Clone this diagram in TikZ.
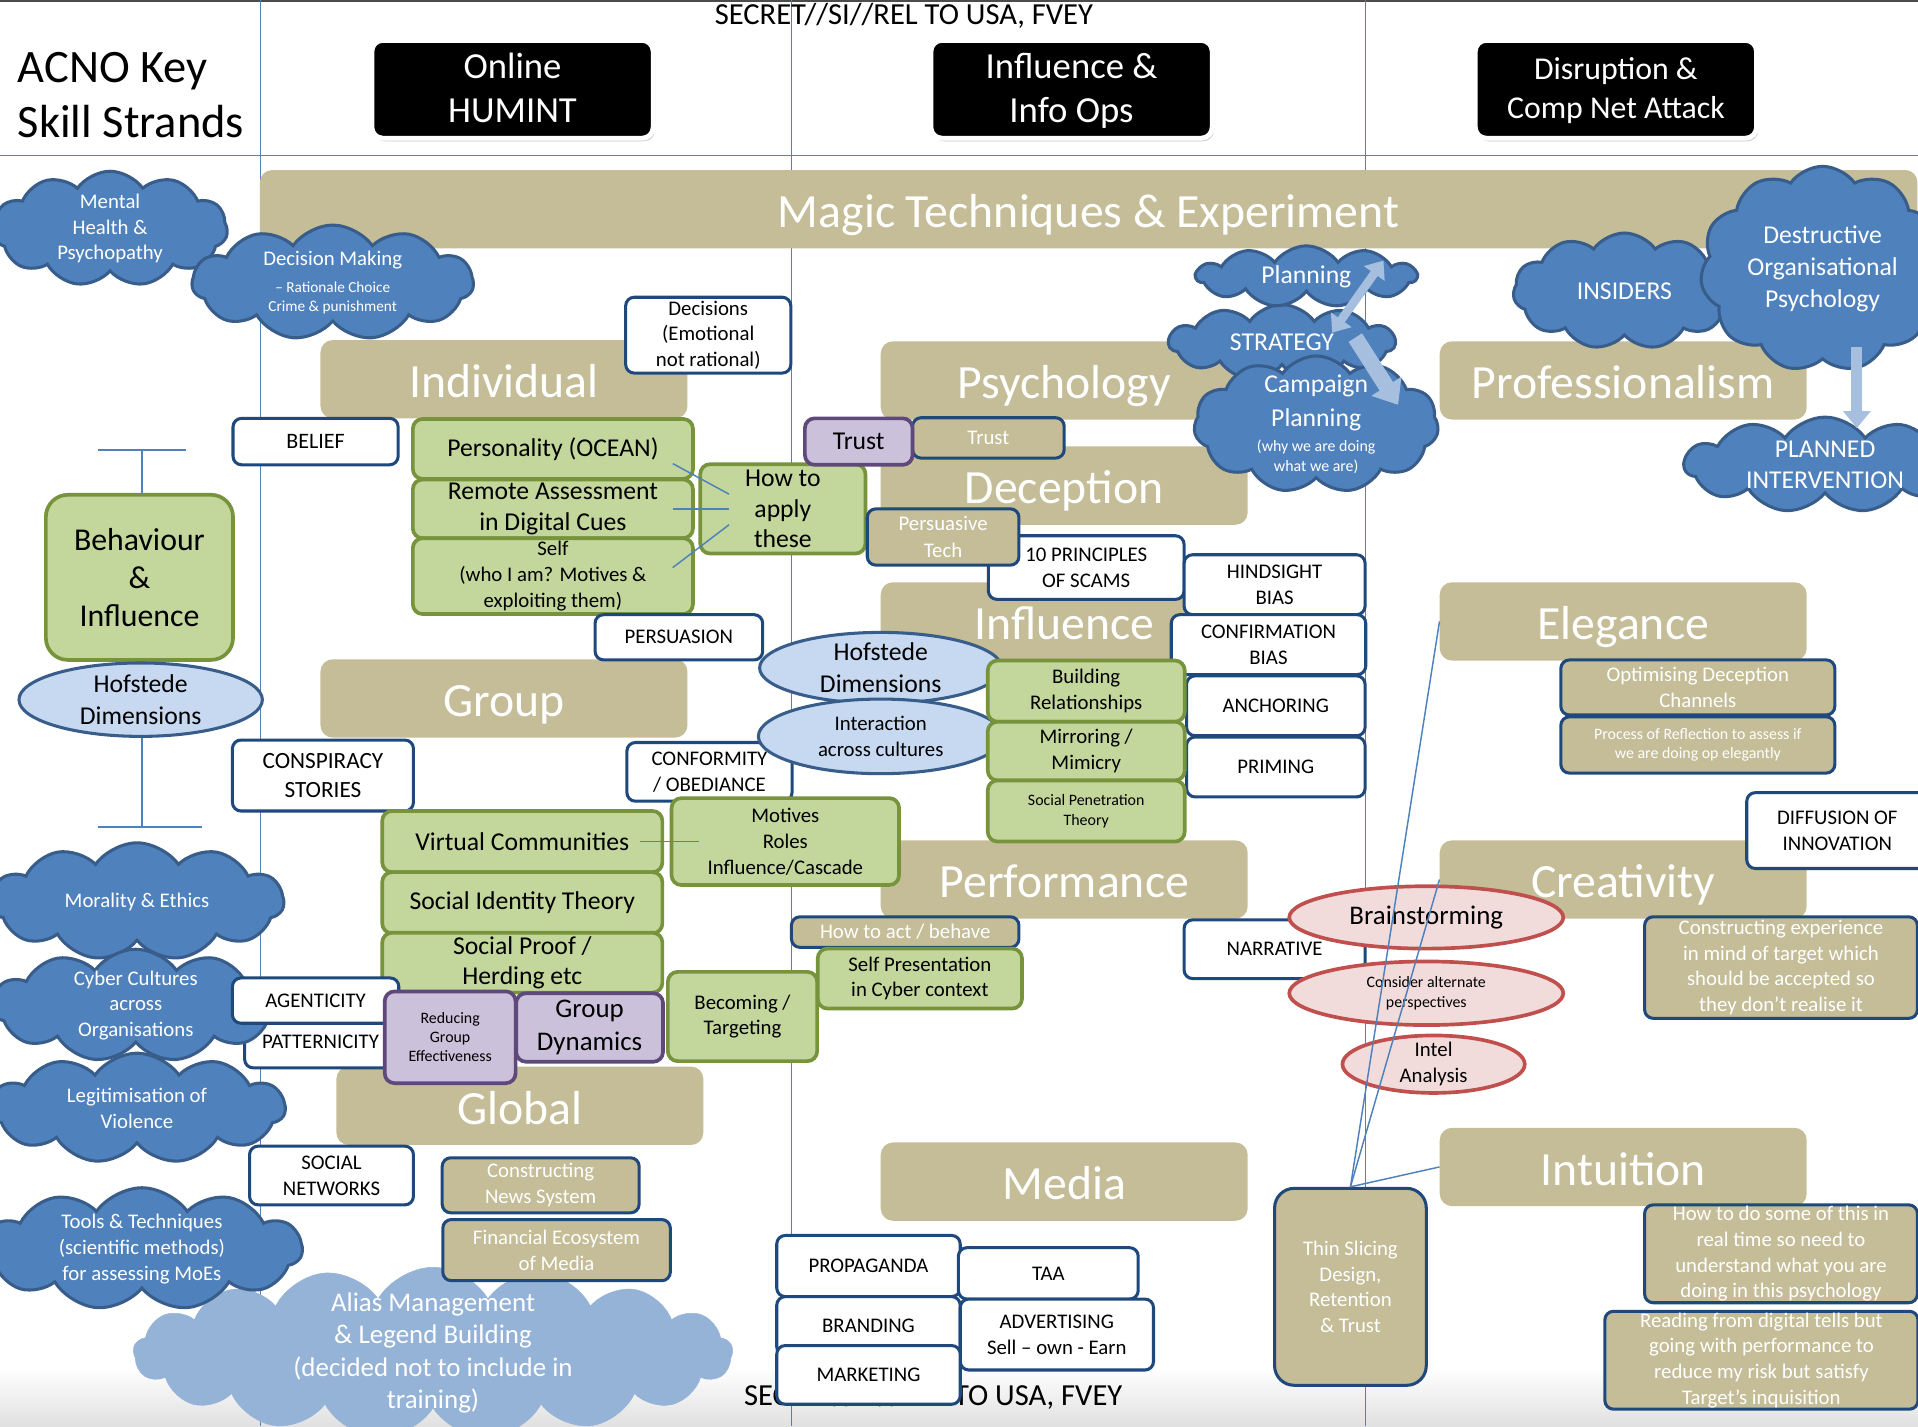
\documentclass[tikz,border=0pt]{standalone}
\usepackage{fontspec}
\setmainfont{Carlito}
\usetikzlibrary{shapes.geometric,shapes.symbols,arrows.meta,shadows}

\definecolor{tan}{HTML}{C4BD97}
\definecolor{cloudblue}{HTML}{4F81BD}
\definecolor{cloudedge}{HTML}{385D8A}
\definecolor{paleblue}{HTML}{95B3D7}
\definecolor{arrowblue}{HTML}{A7BFDE}
\definecolor{leaf}{HTML}{C3D69B}
\definecolor{leafedge}{HTML}{77933C}
\definecolor{lilac}{HTML}{CCC1DA}
\definecolor{lilacedge}{HTML}{5F497A}
\definecolor{navy}{HTML}{1F497D}
\definecolor{skyfill}{HTML}{C6D9F1}
\definecolor{rosefill}{HTML}{F2DCDB}
\definecolor{roseedge}{HTML}{C0504D}
\definecolor{gridblue}{HTML}{4F81BD}

\newcommand\fsz[2]{\fontsize{#1}{#2}\selectfont}

\tikzset{
  dims/.style 2 args={minimum width=#1pt, minimum height=#2pt},
  gridline/.style={draw=gridblue, line width=1pt},
  link/.style={draw=gridblue, line width=1.2pt},
  header/.style={rectangle, fill=black, draw=white, line width=4pt, rounded corners=9pt,
    text=white, align=center, dims={230}{80},
    drop shadow={shadow xshift=1.5pt, shadow yshift=-2.5pt, opacity=0.4}},
  strand/.style={rectangle, fill=tan, rounded corners=10pt, text=white,
    font=\fsz{39}{45}, dims={300}{64}, inner sep=0pt, text height=34pt, text depth=4pt},
  plainbox/.style={rectangle, rounded corners=7pt, fill=white, draw=navy, line width=2.5pt,
    align=center, inner sep=0pt, font=\fsz{17}{21}},
  tanbox/.style={rectangle, rounded corners=7pt, fill=tan, draw=navy, line width=2.5pt,
    text=white, align=center, inner sep=0pt, font=\fsz{17}{21}},
  leafbox/.style={rectangle, rounded corners=8pt, fill=leaf, draw=leafedge, line width=3pt,
    align=center, inner sep=0pt, font=\fsz{17}{21}},
  lilacbox/.style={rectangle, rounded corners=8pt, fill=lilac, draw=lilacedge, line width=3pt,
    align=center, inner sep=0pt, font=\fsz{17}{21}},
  bluecloud/.style={cloud, cloud puffs=11, cloud puff arc=110, cloud ignores aspect,
    fill=cloudblue, draw=cloudedge, line width=2.5pt, text=white, align=center,
    inner xsep=-10pt, inner ysep=-16pt},
  palecloud/.style={cloud, cloud puffs=17, cloud puff arc=120, cloud ignores aspect,
    fill=paleblue, draw=paleblue, text=white, align=center, inner xsep=-40pt, inner ysep=-40pt},
  skyellipse/.style={ellipse, fill=skyfill, draw=cloudedge, line width=2.5pt, align=center,
    inner xsep=0pt, inner ysep=-7pt, font=\fsz{17}{21}},
  roseellipse/.style={ellipse, fill=rosefill, draw=roseedge, line width=3pt, align=center,
    inner xsep=0pt, inner ysep=-7pt, font=\fsz{17}{21}},
  fatarrow/.style={draw=arrowblue, line cap=butt},
}

\begin{document}
\begin{tikzpicture}[x=1pt, y=-1pt]
  \useasboundingbox (0,0) rectangle (1568,1166);
  \shade[top color=white, bottom color=black!12] (0,1118) rectangle (1568,1166);
  \draw[black!70, line width=1.5pt] (0,0.8) -- (1568,0.8);

  % Column grid
  \draw[gridline] (213,0) -- (213,1166);
  \draw[gridline] (647,0) -- (647,1166);
  \draw[gridline] (1116,0) -- (1116,1166);
  \draw[gridline] (0,127) -- (1568,127);

  % Headings
  \node[anchor=west, align=left, font=\fsz{38}{45}] (title) at (11,78) {ACNO Key\\Skill Strands};
  \node[font=\fsz{25}{28}] (classtop) at (739,13) {SECRET//SI//REL TO USA, FVEY};
  \node[header, font=\fsz{30}{36}, text depth=2pt] (humint) at (419,73) {Online\\HUMINT};
  \node[header, font=\fsz{30}{36}, text depth=2pt] (infoops) at (876,73) {Influence \&\\Info Ops};
  \node[header, font=\fsz{26}{32}, text depth=2pt] (disrupt) at (1321,73) {Disruption \&\\Comp Net Attack};

  % Skill strands
  \node[strand, dims={1355}{64}] (magic) at (890,171) {Magic Techniques \& Experiment};
  \node[strand] (individual) at (412,310) {Individual};
  \node[strand] (group) at (412,571) {Group};
  \node[strand] (global) at (425,904) {Global};
  \node[strand] (psych) at (870,311) {Psychology};
  \node[strand] (deception) at (870,397) {Deception};
  \node[strand] (influence) at (870,508) {Influence};
  \node[strand] (performance) at (870,719) {Performance};
  \node[strand] (media) at (870,966) {Media};
  \node[strand] (profess) at (1327,311) {Professionalism};
  \node[strand] (elegance) at (1327,508) {Elegance};
  \node[strand] (creativity) at (1327,719) {Creativity};
  \node[strand] (intuition) at (1327,954) {Intuition};

  % Clouds, top left
  \node[bluecloud, dims={192}{94}, font=\fsz{17}{21}] (mental) at (90,187) {Mental\\Health \&\\Psychopathy};
  \node[bluecloud, dims={230}{94}, font=\fsz{12.5}{16}] (decision) at (272,231)
    {{\fsz{17}{21}Decision Making}\\[6pt]-- Rationale Choice\\Crime \& punishment};

  % Behaviour & Influence column
  \coordinate (brackettop) at (116,368);
  \coordinate (bracketbot) at (116,676);
  \draw[link] (brackettop) -- (bracketbot);
  \draw[link] ([xshift=-36pt]brackettop) -- ([xshift=36pt]brackettop);
  \draw[link] ([xshift=-36pt]bracketbot) -- ([xshift=49pt]bracketbot);
  \node[leafbox, dims={153}{135}, rounded corners=18pt, font=\fsz{26}{31}] (behaviour) at (114,472) {Behaviour\\\&\\Influence};
  \node[skyellipse, dims={199}{60}, font=\fsz{21}{26}] (hofleft) at (115,572) {Hofstede\\Dimensions};

  % Clouds, left
  \node[bluecloud, dims={240}{96}, font=\fsz{17}{21}] (morality) at (112,737) {Morality \& Ethics};
  \node[plainbox, dims={124}{42}] (patternicity) at (262,852) {PATTERNICITY};
  \node[bluecloud, dims={236}{92}, font=\fsz{17}{21}] (cyber) at (111,822) {Cyber Cultures\\across\\Organisations};
  \node[bluecloud, dims={242}{90}, font=\fsz{17}{21}] (legit) at (112,906) {Legitimisation of\\Violence};
  \node[plainbox, dims={134}{48}] (socialnet) at (271,961) {SOCIAL\\NETWORKS};
  \node[palecloud, dims={490}{140}, font=\fsz{22}{26.5}] (alias) at (354,1106) {Alias Management\\\& Legend Building\\(decided not to include in\\training)};
  \node[bluecloud, dims={262}{100}, font=\fsz{17}{21}] (tools) at (116,1021) {Tools \& Techniques\\(scientific methods)\\for assessing MoEs};

  % Individual
  \node[plainbox, dims={135}{62}] (decisions) at (579,274) {Decisions\\(Emotional\\not rational)};
  \node[plainbox, dims={135}{38}, font=\fsz{18}{22}] (belief) at (258,361) {BELIEF};
  \node[leafbox, dims={229}{49}, font=\fsz{21}{25}] (personality) at (452,367) {Personality (OCEAN)};
  \node[leafbox, dims={229}{48}, font=\fsz{21}{25}] (remote) at (452,416) {Remote Assessment\\in Digital Cues};
  \node[leafbox, dims={229}{62}] (self) at (452,471) {Self\\(who I am? Motives \&\\exploiting them)};
  \node[leafbox, dims={135}{73}, font=\fsz{21}{25}] (howto) at (640,416) {How to\\apply\\these};
  \draw[link] ([xshift=-18pt,yshift=-12pt]personality.east) -- ([xshift=25pt,yshift=12pt]howto.west);
  \draw[link] ([xshift=-18pt]remote.east) -- ([xshift=25pt]howto.west);
  \draw[link] ([xshift=-18pt,yshift=7pt]self.east) -- ([xshift=25pt,yshift=-13pt]howto.west);
  \node[plainbox, dims={137}{37}] (persuasion) at (555,521) {PERSUASION};

  % Group
  \node[plainbox, dims={148}{58}, font=\fsz{19}{23}] (conspiracy) at (264,634) {CONSPIRACY\\STORIES};
  \node[plainbox, dims={135}{48}] (conformity) at (580,631) {CONFORMITY\\/ OBEDIANCE};
  \node[leafbox, dims={229}{50}, font=\fsz{21}{25}] (virtual) at (427,688) {Virtual Communities};
  \node[leafbox, dims={229}{50}, font=\fsz{21}{25}] (identity) at (427,738) {Social Identity Theory};
  \node[leafbox, dims={229}{49}, font=\fsz{21}{25}] (proof) at (427,787) {Social Proof /\\Herding etc};
  \node[leafbox, dims={186}{71}] (motives) at (642,688) {Motives\\Roles\\Influence/Cascade};
  \draw[link] ([xshift=-20pt]virtual.east) -- ([xshift=24pt]motives.west);
  \node[plainbox, dims={136}{37}] (agenticity) at (258,818) {AGENTICITY};
  \node[lilacbox, dims={107}{75}, font=\fsz{13}{15.5}] (reducing) at (368,848) {Reducing\\Group\\Effectiveness};
  \node[lilacbox, dims={120}{56}, font=\fsz{22}{27}] (groupdyn) at (482,840) {Group\\Dynamics};
  \node[leafbox, dims={122}{73}] (becoming) at (607,831) {Becoming /\\Targeting};

  % Global
  \node[tanbox, dims={161}{45}] (news) at (442,969) {Constructing\\News System};
  \node[tanbox, dims={186}{50}] (finance) at (455,1022) {Financial Ecosystem\\of Media};

  % Psychology, Deception, Influence
  \node[tanbox, dims={124}{33}] (trusttan) at (808,358) {Trust};
  \node[lilacbox, dims={88}{38}, font=\fsz{21}{25}] (trustlilac) at (702,361) {Trust};
  \node[plainbox, dims={160}{52}] (scams) at (888,464) {10 PRINCIPLES\\OF SCAMS};
  \node[tanbox, dims={124}{46}, font=\fsz{17}{22}] (persuasive) at (771,439) {Persuasive\\Tech};
  \node[plainbox, dims={148}{49}] (hindsight) at (1042,478) {HINDSIGHT\\BIAS};
  \node[plainbox, dims={159}{49}] (confirmation) at (1037,527) {CONFIRMATION\\BIAS};
  \node[plainbox, dims={146}{49}] (anchoring) at (1043,577) {ANCHORING};
  \node[plainbox, dims={146}{49}] (priming) at (1043,627) {PRIMING};
  \node[skyellipse, dims={198}{58}, font=\fsz{21}{26}] (hofmid) at (720,546) {Hofstede\\Dimensions};
  \node[skyellipse, dims={200}{61}] (interaction) at (720,602) {Interaction\\across cultures};
  \node[leafbox, dims={161}{50}] (building) at (888,565) {Building\\Relationships};
  \node[leafbox, dims={161}{48}] (mirroring) at (888,614) {Mirroring /\\Mimicry};
  \node[leafbox, dims={161}{50}, font=\fsz{13}{16}] (penetration) at (888,663) {Social Penetration\\Theory};

  % Performance
  \node[tanbox, dims={186}{25}] (howact) at (740,762) {How to act / behave};
  \node[leafbox, dims={167}{49}] (selfpres) at (752,800) {Self Presentation\\in Cyber context};
  \node[plainbox, dims={148}{48}] (narrative) at (1042,776) {NARRATIVE};

  % Media
  \node[font=\fsz{25}{28}] (classbot) at (763,1142) {SECRET//SI//REL TO USA, FVEY};
  \node[plainbox, dims={150}{50}] (propaganda) at (710,1035) {PROPAGANDA};
  \node[plainbox, dims={147}{42}] (taa) at (857,1041) {TAA};
  \node[plainbox, dims={150}{48}] (branding) at (710,1084) {BRANDING};
  \node[plainbox, dims={158}{58}] (advertising) at (864,1091) {ADVERTISING\\Sell -- own - Earn};
  \node[plainbox, dims={150}{48}] (marketing) at (710,1124) {MARKETING};

  % Planning clouds
  \node[bluecloud, dims={185}{62}, font=\fsz{21}{25}] (strategy) at (1048,280) {STRATEGY};
  \node[bluecloud, dims={180}{50}, font=\fsz{21}{25}] (planning) at (1068,226) {Planning};
  \node[bluecloud, dims={200}{112}, font=\fsz{13}{16}, inner ysep=-28pt] (campaign) at (1076,347)
    {{\fsz{21}{25}Campaign}\\[8pt]{\fsz{21}{25}Planning}\\[5pt](why we are doing\\what we are)};
  \coordinate (planA) at (1131,213);
  \coordinate (planB) at (1089,272);
  \draw[fatarrow, line width=7pt, {Triangle[width=20pt,length=13pt]}-{Triangle[width=20pt,length=13pt]}] (planA) -- (planB);
  \coordinate (stratA) at (1108,276);
  \coordinate (stratB) at (1143,331);
  \draw[fatarrow, line width=13pt, -{Triangle[width=28pt,length=18pt]}] (stratA) -- (stratB);

  % Professionalism clouds
  \node[bluecloud, dims={182}{95}, font=\fsz{21}{25}] (insiders) at (1328,238) {INSIDERS};
  \node[bluecloud, dims={200}{168}, font=\fsz{21}{26}] (destructive) at (1490,220) {Destructive\\Organisational\\Psychology};
  \node[bluecloud, dims={230}{78}, font=\fsz{21}{26}] (planned) at (1492,380) {PLANNED\\INTERVENTION};
  \coordinate (destA) at (1518,284);
  \coordinate (destB) at (1518,350);
  \draw[fatarrow, line width=9pt, -{Triangle[width=22pt,length=14pt]}] (destA) -- (destB);

  % Elegance, Creativity, Intuition
  \node[tanbox, dims={224}{45}] (optimising) at (1388,562) {Optimising Deception\\Channels};
  \node[tanbox, dims={224}{46}, font=\fsz{13}{16}] (reflection) at (1388,609) {Process of Reflection to assess if\\we are doing op elegantly};
  \node[plainbox, dims={148}{62}] (diffusion) at (1502,679) {DIFFUSION OF\\INNOVATION};
  \node[tanbox, dims={223}{83}] (experience) at (1456,791) {Constructing experience\\in mind of target which\\should be accepted so\\they don’t realise it};
  \node[roseellipse, dims={224}{51}, font=\fsz{22}{26}] (brainstorm) at (1166,750) {Brainstorming};
  \node[roseellipse, dims={224}{52}, font=\fsz{13}{16}] (consider) at (1166,812) {Consider alternate\\perspectives};
  \node[roseellipse, dims={149}{47}] (intel) at (1172,870) {Intel\\Analysis};
  \node[tanbox, dims={124}{161}, rounded corners=16pt] (thinslice) at (1104,1052) {Thin Slicing\\Design,\\Retention\\\& Trust};
  \draw[link] (thinslice.north) -- (elegance.west);
  \draw[link] (thinslice.north) -- (creativity.west);
  \draw[link] (thinslice.north) -- (intuition.west);
  \node[tanbox, dims={223}{80}] (realtime) at (1456,1025) {How to do some of this in\\real time so need to\\understand what you are\\doing in this psychology};
  \node[tanbox, dims={256}{80}] (reading) at (1440,1112) {Reading from digital tells but\\going with performance to\\reduce my risk but satisfy\\Target’s inquisition};
\end{tikzpicture}
\end{document}
